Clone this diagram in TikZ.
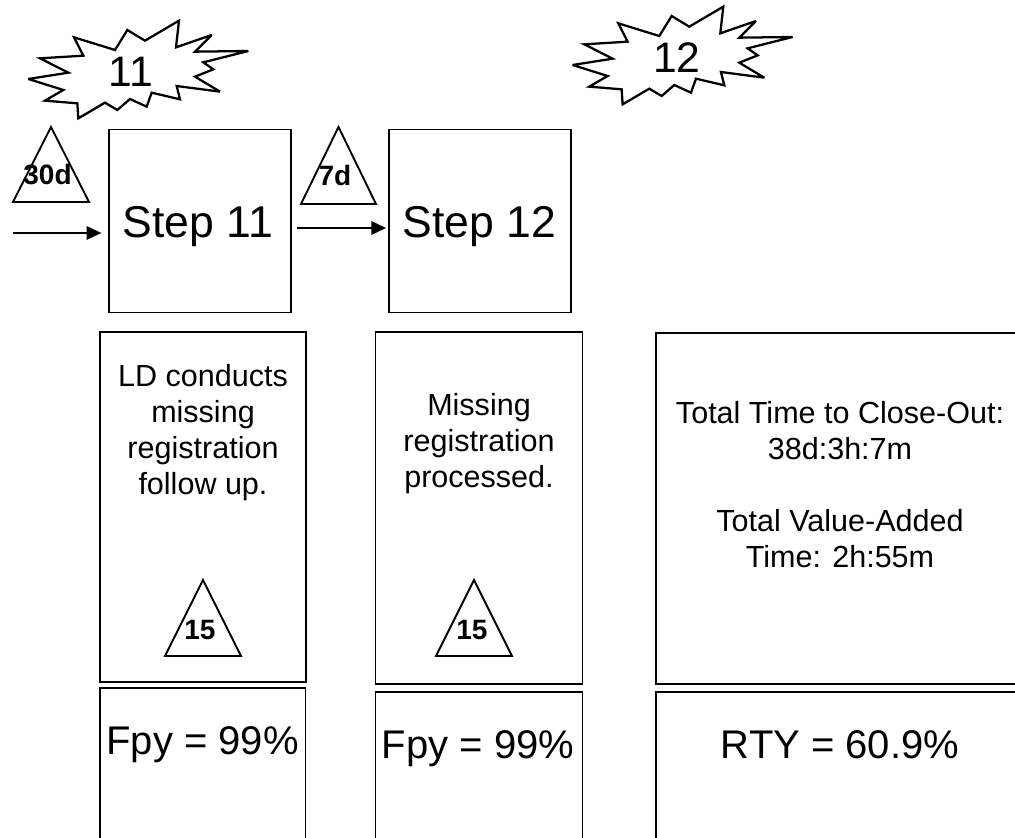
\documentclass[tikz,border=0pt]{standalone}
\usepackage{fontspec}
\setmainfont{Liberation Sans}
\usetikzlibrary{arrows.meta}
\newcommand{\burstshape}{(222,112) -- (345,150) -- (382,90) -- (435,122) -- (537,62) -- (528,142) -- (635,105) -- (585,155) -- (745,153) -- (610,187) -- (640,208) -- (585,230) -- (660,275) -- (530,258) -- (540,298) -- (455,278) -- (440,320) -- (390,297) -- (352,330) -- (315,308) -- (235,355) -- (232,310) -- (135,302) -- (190,270) -- (85,237) -- (205,218) -- (120,175) -- (250,167) -- cycle}
\tikzset{
  px/.style={x=0.75pt,y=-0.75pt},
  box/.style={draw=black,line width=1.4pt,fill=none},
  burst/.style={draw=black,line width=1.7pt,line join=miter,miter limit=4},
  tri/.style={draw=black,line width=1.4pt,line join=miter},
  flow/.style={draw=black,line width=1.4pt,-{Triangle[length=11pt,width=10pt]}},
  stepfont/.style={font=\fontsize{33.4}{40}\selectfont,inner sep=0pt,anchor=base},
  big/.style={font=\fontsize{30}{36}\selectfont,inner sep=0pt,anchor=base},
  mid/.style={font=\fontsize{22.9}{27}\selectfont,align=center,inner sep=0pt},
  bold/.style={font=\bfseries\fontsize{21}{24}\selectfont,inner sep=0pt,anchor=base},
  num/.style={font=\fontsize{32}{38}\selectfont,inner sep=0pt,anchor=base},
}
\begin{document}
\begin{tikzpicture}[px]
\useasboundingbox (0,0) rectangle (1015,838);
\clip (0,0) rectangle (1015,838);
% bursts
\begin{scope}[x=0.25pt,y=-0.25pt]
\draw[burst] \burstshape;
\end{scope}
\begin{scope}[shift={(544.3,-14)},x=0.25pt,y=-0.25pt]
\draw[burst] \burstshape;
\end{scope}
\node[num] (b11) at (131,87) {11};
\node[num] (b12) at (677,73) {12};
% step boxes
\node[box,minimum width=136.5pt,minimum height=137.25pt,inner sep=0pt] (s11) at (200,221) {};
\node[box,minimum width=136.5pt,minimum height=137.25pt,inner sep=0pt] (s12) at (480,221) {};
\node[stepfont] (l11) at (198,238) {Step 11};
\node[stepfont] (l12) at (479.5,238) {Step 12};
% triangles
\draw[tri] (51,127) -- (89,202) -- (13,202) -- cycle;
\node[bold] (t30) at (47.5,185) {30d};
\draw[tri] (338.5,127) -- (376,204) -- (301,204) -- cycle;
\node[bold] (t7) at (335,186) {7d};
% arrows
\coordinate (in) at (13,233);
\draw[flow,shorten >=5pt] (in) -- (in -| s11.west);
\coordinate (mid) at (297,228);
\draw[flow,shorten >=1.5pt] (mid) -- (mid -| s12.west);
% description boxes
\draw[box] (100,332) rectangle (306,682);
\draw[box] (375.5,332) rectangle (582.5,684);
\draw[box] (656,333) rectangle (1030,684);
\draw[box] (100,688) rectangle (305.5,850);
\draw[box] (375.5,692) rectangle (582.5,850);
\draw[box] (656,692) rectangle (1030,850);
\node[mid] (d1) at (203,433) {LD conducts\\missing\\registration\\follow up.};
\node[mid] (d2) at (479,444) {Missing\\registration\\processed.};
\node[mid] (d3) at (840,485) {Total Time to Close-Out:\\38d:3h:7m\\[27pt]Total Value-Added\\Time: 2h:55m};
\draw[tri] (203,580) -- (241,656) -- (165,656) -- cycle;
\node[bold] (n1) at (200,639) {15};
\draw[tri] (474,580) -- (512,656) -- (436,656) -- cycle;
\node[bold] (n2) at (472,639) {15};
\node[big] (f1) at (202.5,754) {Fpy = 99\%};
\node[big] (f2) at (478,758) {Fpy = 99\%};
\node[big] (r) at (840,758) {RTY = 60.9\%};
\end{tikzpicture}
\end{document}
